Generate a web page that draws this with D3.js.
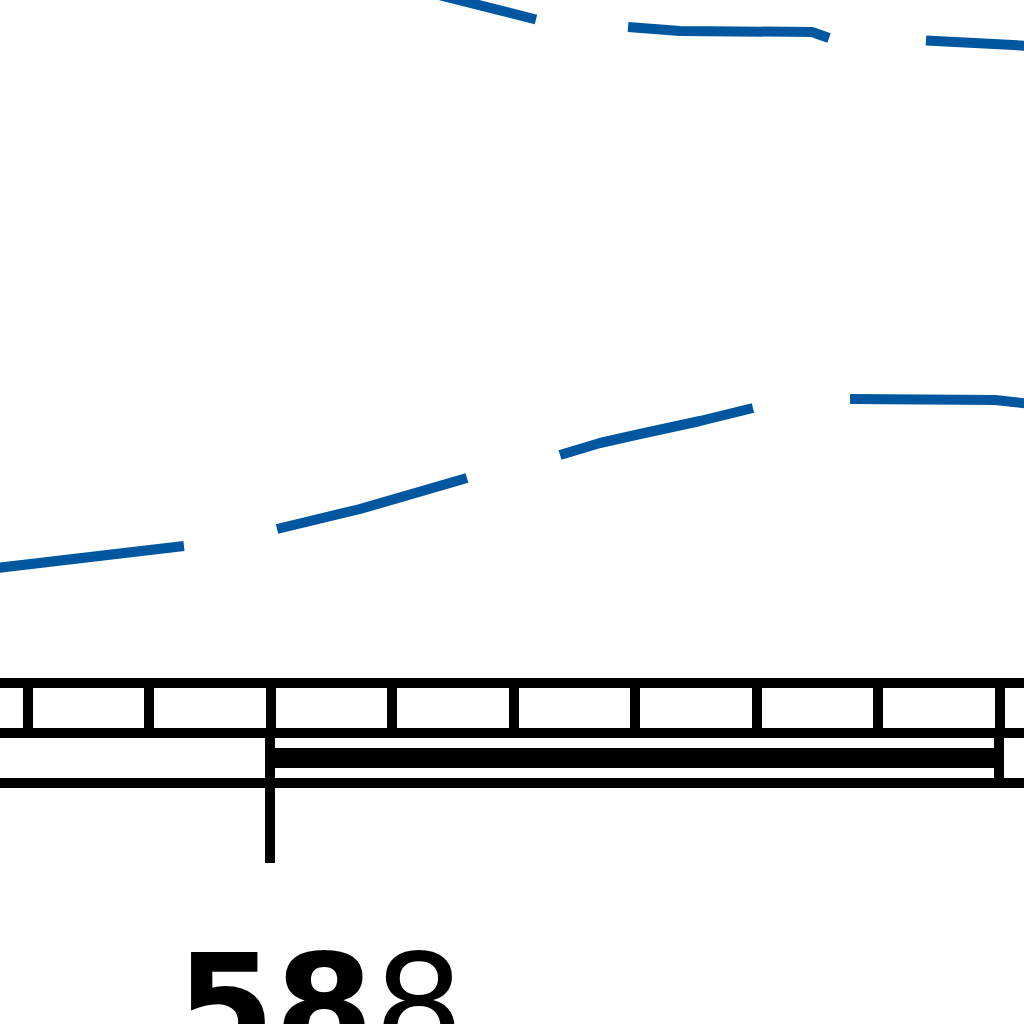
<!DOCTYPE html>
<html>
<head>
<meta charset="utf-8">
<script src="https://cdn.jsdelivr.net/npm/d3@7"></script>
<style>
  html, body { margin: 0; padding: 0; background: #ffffff; overflow: hidden; }
  svg { display: block; }
</style>
</head>
<body>
<svg id="chart" width="1024" height="1024"></svg>
<script>
// ---------------- data ----------------
// x in axis-tick units, y in value units; null breaks the line
const upperX = [2.576, 4.189, null, 4.947, 5.374, 6.461, 6.601, null, 7.399, 8.337];
const upperY = [71.0, 66.05, null, 65.3, 64.9, 64.8, 64.2, null, 63.95, 63.35];

const lowerX = [-0.321, 1.292, null, 2.058, 2.741, 3.621, null,
                4.387, 4.716, 5.045, 5.539, 5.975, null, 6.774, 7.967, 8.337];
const lowerY = [11.1, 13.4, null, 15.1, 17.1, 20.2, null,
                22.5, 23.7, 24.6, 25.9, 27.2, null, 28.1, 28.0, 27.5];

const tickValues = [-1, 0, 1, 2, 3, 4, 5, 6, 7, 8, 9];
const spanStart = 2;
const spanEnd = 8;
const spanLabel = ["5", "8", "8"];
const labelWeights = ["bold", "bold", "normal"];

// ---------------- layout ----------------
const W = 1024, H = 1024;
const lineColor = "#0057a0";
const rowTop = 683, rowMid = 733, rowBot = 783;

const svg = d3.select("#chart");

const x = d3.scaleLinear().domain([0, 8]).range([27, 999]);
const y = d3.scaleLinear().domain([0, 68]).range([680, 0]);

function zip(xs, ys) {
  return xs.map((v, i) => ({ x: v, y: ys[i] }));
}

const line = d3.line()
  .defined(d => d.x != null && d.y != null)
  .x(d => x(d.x))
  .y(d => y(d.y));

[zip(upperX, upperY), zip(lowerX, lowerY)].forEach(series => {
  svg.append("path")
    .datum(series)
    .attr("d", line)
    .attr("fill", "none")
    .attr("stroke", lineColor)
    .attr("stroke-width", 10)
    .attr("stroke-linecap", "butt")
    .attr("stroke-linejoin", "round");
});

// ---------------- axis ----------------
const axisG = svg.append("g").attr("shape-rendering", "crispEdges");

// full-width row lines
[rowTop, rowMid, rowBot].forEach(ry => {
  axisG.append("line")
    .attr("x1", x(tickValues[0])).attr("x2", x(tickValues[tickValues.length - 1]))
    .attr("y1", ry).attr("y2", ry)
    .attr("stroke", "#000").attr("stroke-width", 10);
});

// tick row via d3 axis
const tickAxis = d3.axisBottom(x)
  .tickValues(tickValues)
  .tickSize(rowMid - rowTop)
  .tickSizeOuter(0)
  .tickFormat("");
const tg = axisG.append("g")
  .attr("transform", `translate(0,${rowTop})`)
  .call(tickAxis);
tg.select(".domain").remove();
tg.selectAll(".tick line").attr("stroke", "#000").attr("stroke-width", 10);

// span row: bracket with thick bar
axisG.append("line")
  .attr("x1", x(spanStart)).attr("x2", x(spanStart))
  .attr("y1", rowMid).attr("y2", 863)
  .attr("stroke", "#000").attr("stroke-width", 10);
axisG.append("line")
  .attr("x1", x(spanEnd)).attr("x2", x(spanEnd))
  .attr("y1", rowMid).attr("y2", rowBot)
  .attr("stroke", "#000").attr("stroke-width", 10);
axisG.append("rect")
  .attr("x", x(spanStart) + 5)
  .attr("width", x(spanEnd) - x(spanStart) - 10)
  .attr("y", 748).attr("height", 20)
  .attr("fill", "#000");

// label
const label = svg.append("text")
  .attr("x", 176)
  .attr("y", 1056)
  .attr("font-family", "'DejaVu Sans', sans-serif")
  .attr("font-size", 142)
  .attr("fill", "#000");
label.selectAll("tspan")
  .data(spanLabel)
  .join("tspan")
  .attr("font-weight", (d, i) => labelWeights[i])
  .text(d => d);
</script>
</body>
</html>
